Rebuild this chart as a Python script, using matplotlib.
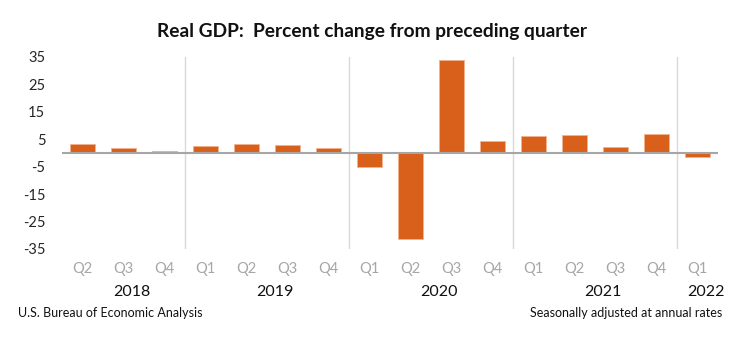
import matplotlib
matplotlib.use("Agg")
import matplotlib.pyplot as plt
import numpy as np

plt.rcParams['font.family'] = ['Lato', 'DejaVu Sans']

quarters = ["Q2", "Q3", "Q4", "Q1", "Q2", "Q3", "Q4", "Q1", "Q2", "Q3", "Q4",
            "Q1", "Q2", "Q3", "Q4", "Q1"]
years = ["2018", "2019", "2020", "2021", "2022"]
year_counts = [3, 4, 4, 4, 1]
values = [3.3, 1.9, 0.9, 2.4, 3.2, 2.8, 1.9, -5.1, -31.2, 33.8, 4.5,
          6.3, 6.7, 2.3, 6.9, -1.4]
yticks = [35, 25, 15, 5, -5, -15, -25, -35]

W, H = 743, 342
fig = plt.figure(figsize=(W / 100, H / 100), dpi=100)
ax = fig.add_axes([62 / W, 1 - 249 / H, (718 - 62) / W, (249 - 57) / H])

x = np.arange(len(values))
ax.bar(x, values, width=0.6, color="#D9601A", edgecolor="#F2B28C", linewidth=0.6, zorder=3)
ax.set_xlim(-0.5, len(values) - 0.5)
ax.set_ylim(-35, 35)
ax.axhline(0, color="#A6A6A6", linewidth=1.5, zorder=4)

# year separators
pos = 0
for c in year_counts[:-1]:
    pos += c
    ax.axvline(pos - 0.5, color="#D9D9D9", linewidth=1.0, zorder=1)

for s in ax.spines.values():
    s.set_visible(False)
ax.set_yticks(yticks)
ax.set_yticklabels([str(v) for v in yticks], fontsize=10.5, color="#262626")
ax.tick_params(axis="y", length=0, pad=12)
ax.set_xticks(x)
ax.set_xticklabels(quarters, fontsize=10.5, color="#A6A6A6")
ax.tick_params(axis="x", length=0, pad=9)

# year labels
start = 0
for yr, c in zip(years, year_counts):
    center = start + (c - 1) / 2 + 0.2
    ax.text(center, -0.225, yr, transform=ax.get_xaxis_transform(), ha="center",
            va="center", fontsize=11.5, color="#111111")
    start += c

fig.text(372 / W, 1 - 32 / H, "Real GDP:  Percent change from preceding quarter",
         ha="center", va="center", fontsize=13.8, fontweight="bold", color="#111111")
fig.text(18 / W, 1 - 313 / H, "U.S. Bureau of Economic Analysis", ha="left",
         va="center", fontsize=9, color="#111111")
fig.text(722 / W, 1 - 313 / H, "Seasonally adjusted at annual rates", ha="right",
         va="center", fontsize=9, color="#111111")

fig.savefig("out.png", dpi=100, facecolor="white")
